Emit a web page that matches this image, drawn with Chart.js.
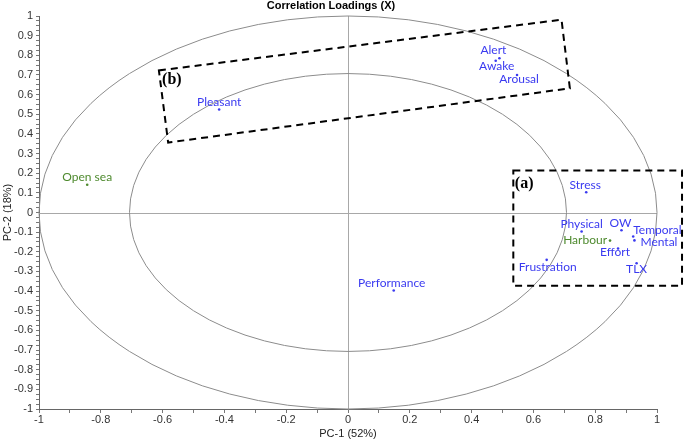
<!DOCTYPE html>
<html>
<head>
<meta charset="utf-8">
<script src="https://cdn.jsdelivr.net/npm/chart.js@4.4.1/dist/chart.umd.min.js"></script>
<style>
  html, body { margin: 0; padding: 0; background: #ffffff; }
  #wrap { width: 685px; height: 443px; position: relative; }
</style>
</head>
<body>
<div id="wrap"><canvas id="c" width="685" height="443"></canvas></div>
<script>
// ---------------- data ----------------
const variableNames = ["Pleasant", "Alert", "Awake", "Arousal", "Open sea", "Performance",
  "Stress", "Physical", "OW", "Temporal", "Mental", "Harbour", "Effort", "Frustration", "TLX"];
const pc1Loadings = [-0.417, 0.490, 0.478, 0.547, -0.844, 0.148,
  0.771, 0.756, 0.885, 0.923, 0.927, 0.848, 0.874, 0.643, 0.934];
const pc2Loadings = [0.524, 0.785, 0.772, 0.700, 0.141, -0.397,
  0.103, -0.097, -0.090, -0.122, -0.142, -0.143, -0.183, -0.241, -0.258];
const variableGroups = ["resp", "resp", "resp", "resp", "design", "resp",
  "resp", "resp", "resp", "resp", "resp", "design", "resp", "resp", "resp"];
const xTickValues = [-1, -0.8, -0.6, -0.4, -0.2, 0, 0.2, 0.4, 0.6, 0.8, 1];
const yTickValues = [-1, -0.9, -0.8, -0.7, -0.6, -0.5, -0.4, -0.3, -0.2, -0.1, 0,
  0.1, 0.2, 0.3, 0.4, 0.5, 0.6, 0.7, 0.8, 0.9, 1];
const ellipseRadii = [1, Math.SQRT1_2];
const chartTitle = "Correlation Loadings (X)";
const xTitle = "PC-1 (52%)";
const yTitle = "PC-2 (18%)";

// ---------------- annotation shapes (data coordinates) ----------------
const boxA = [[0.535, 0.214], [1.081, 0.214], [1.081, -0.373], [0.535, -0.373]];
const boxB = [[-0.612, 0.723], [0.691, 0.981], [0.718, 0.632], [-0.582, 0.356]];
const boxTags = [{ text: "(a)", x: 0.570, y: 0.146 }, { text: "(b)", x: -0.570, y: 0.677 }];

// ---------------- label layout (pixel offsets from point) ----------------
const labelLayout = {
  "Pleasant": { dx: 0, dy: -7, align: "center" },
  "Alert": { dx: -6, dy: -8, align: "center" },
  "Awake": { dx: 1, dy: 5, align: "center" },
  "Arousal": { dx: 2, dy: 4, align: "center" },
  "Open sea": { dx: 0, dy: -8, align: "center" },
  "Performance": { dx: -2, dy: -7, align: "center" },
  "Stress": { dx: -1, dy: -7, align: "center" },
  "Physical": { dx: 0, dy: -7, align: "center" },
  "OW": { dx: -1, dy: -7, align: "center" },
  "Temporal": { dx: 0, dy: -6, align: "left" },
  "Mental": { dx: 6, dy: 2, align: "left" },
  "Harbour": { dx: -3, dy: 0, align: "right" },
  "Effort": { dx: -3, dy: 4, align: "center" },
  "Frustration": { dx: 1, dy: 7, align: "center" },
  "TLX": { dx: 0, dy: 6, align: "center" }
};

const groupColors = { resp: "#3a3af0", design: "#4e8a2e" };
const tickFont = { family: "'Liberation Sans', Arial, sans-serif", size: 11 };

const points = variableNames.map((n, i) => ({ x: pc1Loadings[i], y: pc2Loadings[i] }));
const pointColors = variableGroups.map(g => groupColors[g]);

function isOn(list, v) { return list.some(t => Math.abs(t - v) < 1e-6); }
function fmt(v) { const r = Math.round(v * 10) / 10; return (Object.is(r, -0) ? 0 : r).toString(); }

const backgroundPlugin = {
  id: "bg",
  beforeDatasetsDraw(chart) {
    const { ctx, chartArea: a, scales: { x, y } } = chart;
    ctx.save();
    // cross lines
    ctx.strokeStyle = "#a8a8a8";
    ctx.lineWidth = 1;
    const x0 = Math.round(x.getPixelForValue(0)) + 0.5;
    const y0 = Math.round(y.getPixelForValue(0)) + 0.5;
    ctx.beginPath();
    ctx.moveTo(x0, a.top); ctx.lineTo(x0, a.bottom);
    ctx.moveTo(a.left, y0); ctx.lineTo(a.right, y0);
    ctx.stroke();
    // ellipses
    ctx.strokeStyle = "#8c8c8c";
    ellipseRadii.forEach(r => {
      const rx = x.getPixelForValue(r) - x.getPixelForValue(0);
      const ry = y.getPixelForValue(0) - y.getPixelForValue(r);
      ctx.beginPath();
      ctx.ellipse(x.getPixelForValue(0), y.getPixelForValue(0), rx, ry, 0, 0, Math.PI * 2);
      ctx.stroke();
    });
    ctx.restore();
  }
};

const overlayPlugin = {
  id: "overlay",
  afterDatasetsDraw(chart) {
    const { ctx, scales: { x, y } } = chart;
    const meta = chart.getDatasetMeta(0);
    ctx.save();
    // point labels
    ctx.font = "12px Lato, 'Open Sans', sans-serif";
    ctx.textBaseline = "middle";
    meta.data.forEach((el, i) => {
      const lay = labelLayout[variableNames[i]];
      ctx.fillStyle = pointColors[i];
      ctx.textAlign = lay.align;
      ctx.fillText(variableNames[i], el.x + lay.dx, el.y + lay.dy);
    });
    // dashed boxes
    ctx.strokeStyle = "#000";
    ctx.lineWidth = 2;
    ctx.setLineDash([7, 5]);
    [boxA, boxB].forEach(box => {
      ctx.beginPath();
      box.forEach((p, k) => {
        const px = x.getPixelForValue(p[0]), py = y.getPixelForValue(p[1]);
        if (k === 0) ctx.moveTo(px, py); else ctx.lineTo(px, py);
      });
      ctx.closePath();
      ctx.stroke();
    });
    ctx.setLineDash([]);
    ctx.fillStyle = "#000";
    ctx.font = "bold 16px 'Liberation Serif', 'Times New Roman', serif";
    ctx.textAlign = "center";
    ctx.textBaseline = "middle";
    boxTags.forEach(t => ctx.fillText(t.text, x.getPixelForValue(t.x), y.getPixelForValue(t.y)));
    // titles
    ctx.fillStyle = "#000";
    ctx.font = "bold 11px 'Liberation Sans', Arial, sans-serif";
    ctx.fillText(chartTitle, 331, 6);
    ctx.fillStyle = "#222";
    ctx.font = "11px 'Liberation Sans', Arial, sans-serif";
    ctx.fillText(xTitle, x.getPixelForValue(0), 434);
    ctx.save();
    ctx.translate(8, y.getPixelForValue(0));
    ctx.rotate(-Math.PI / 2);
    ctx.fillText(yTitle, 0, 0);
    ctx.restore();
    ctx.restore();
  }
};

new Chart(document.getElementById("c"), {
  type: "scatter",
  data: {
    datasets: [{
      data: points,
      pointRadius: 1.3,
      pointHoverRadius: 1.3,
      pointBorderWidth: 0,
      pointBackgroundColor: pointColors,
      pointBorderColor: pointColors
    }]
  },
  options: {
    responsive: false,
    animation: false,
    devicePixelRatio: 1,
    layout: { padding: { left: 0, right: 28, top: 16, bottom: 0 } },
    plugins: { legend: { display: false }, tooltip: { enabled: false }, title: { display: false } },
    scales: {
      x: {
        type: "linear", min: -1, max: 1,
        afterFit(s) { s.height = 34; },
        afterBuildTicks(s) {
          const t = [];
          for (let k = -10; k <= 10; k++) t.push({ value: k / 10 });
          s.ticks = t;
        },
        ticks: {
          font: tickFont, color: "#333", padding: 0, maxRotation: 0, autoSkip: false,
          callback: v => isOn(xTickValues, v) ? fmt(v) : ""
        },
        grid: { drawOnChartArea: false, drawTicks: true, tickLength: 4, color: "#777",
          tickColor: "#777" },
        border: { display: true, color: "#666" }
      },
      y: {
        type: "linear", min: -1, max: 1,
        afterFit(s) { s.width = 39; },
        afterBuildTicks(s) {
          const t = [];
          for (let k = -40; k <= 40; k++) t.push({ value: k / 40 });
          s.ticks = t;
        },
        ticks: {
          font: tickFont, color: "#333", padding: 3, autoSkip: false,
          callback: v => isOn(yTickValues, v) ? fmt(v) : ""
        },
        grid: { drawOnChartArea: false, drawTicks: true, tickLength: 3, color: "#777",
          tickColor: "#777" },
        border: { display: true, color: "#666" }
      }
    }
  },
  plugins: [backgroundPlugin, overlayPlugin]
});
</script>
</body>
</html>
